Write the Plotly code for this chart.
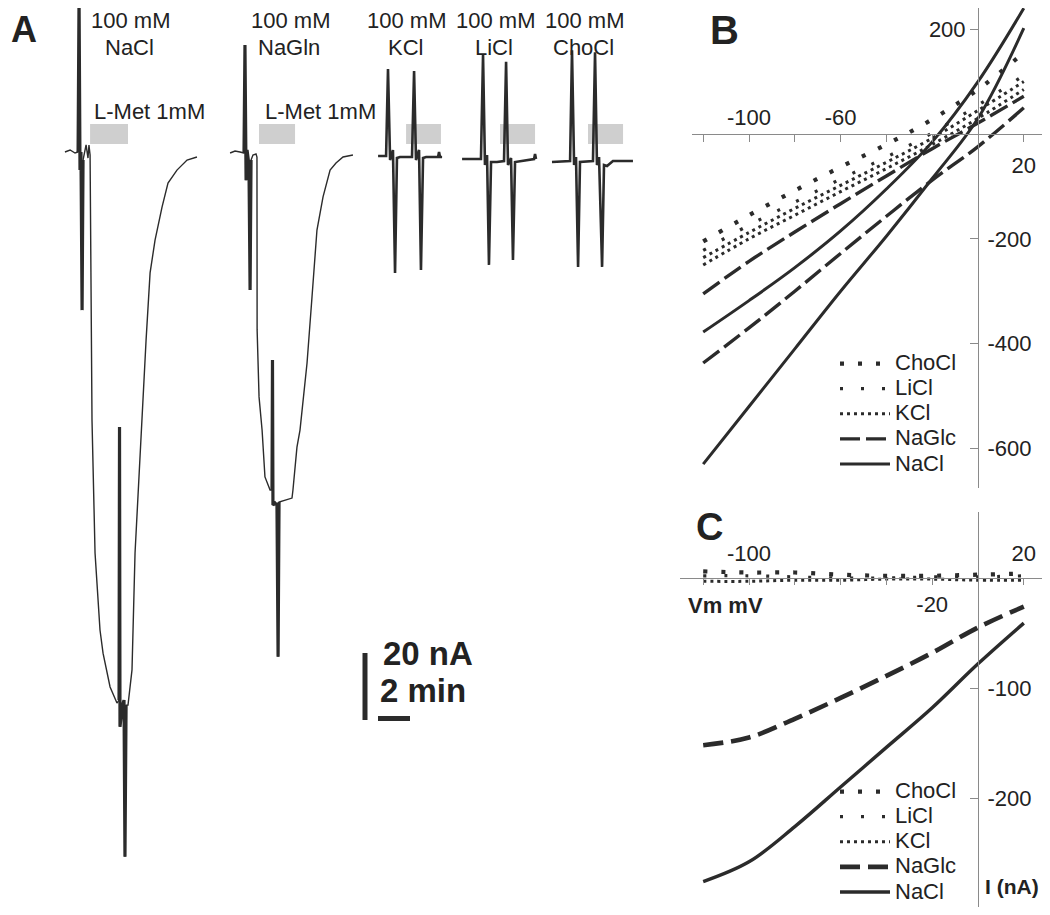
import plotly.graph_objects as go

# The page adds an 8 px body margin around the figure; the figure is sized so that
# figure + margin fills the 1050x915 window exactly.
OFF = 8
FW, FH = 1050 - 2 * OFF, 915 - 2 * OFF
FONT = "Arial, 'Liberation Sans', sans-serif"
INK = "#2b2b2b"
AXC = "#8a8a8a"
TXT = "#222222"

# ---------------- Panel A : current recordings (time in min, current in nA) ----------------
nacl_t = [4.06, 4.38, 4.69, 4.88, 4.94, 5.00, 5.06, 5.13, 5.19, 5.38,
          5.50, 5.56, 5.63, 5.75, 5.94, 6.25, 6.44, 6.88, 7.31, 7.44,
          7.47, 7.50, 7.63, 7.75, 7.81, 7.88, 8.00, 8.25, 8.44, 8.75,
          8.88, 9.13, 9.38, 9.69, 10.13, 10.50, 11.06, 11.69, 12.31]
nacl_i = [0.3, 0.9, 0.0, 0.3, 47.0, -5.1, 0.3, -46.9, -2.1, 2.4,
          -1.5, 2.4, -0.6, -79.7, -119.4, -142.4, -149.3, -159.4, -164.2, -163.3,
          -81.8, -171.3, -165.4, -163.3, -210.1, -164.8, -164.8, -154.3, -119.4, -89.6,
          -79.7, -55.8, -35.8, -26.0, -16.1, -9.0, -5.1, -2.1, -1.2]
nacl_spk1_t = [4.88, 4.94, 5.00, 5.06, 5.13, 5.19]
nacl_spk1_i = [0.3, 47.0, -5.1, 0.3, -46.9, -2.1]
nacl_spk2_t = [7.44, 7.47, 7.50, 7.63, 7.75, 7.81, 7.88]
nacl_spk2_i = [-163.3, -81.8, -171.3, -165.4, -163.3, -210.1, -164.8]

ngln_t = [14.38, 14.69, 15.00, 15.25, 15.31, 15.38, 15.44, 15.56, 15.63, 15.69,
          15.81, 16.00, 16.06, 16.07, 16.19, 16.38, 16.56, 16.88, 17.00, 17.03,
          17.06, 17.19, 17.31, 17.38, 17.44, 17.94, 18.25, 18.31, 18.56, 18.75,
          19.19, 19.50, 19.81, 20.19, 20.63, 21.00, 21.44, 22.06]
ngln_i = [0.0, 0.6, 0.3, 0.0, 32.2, -8.1, 0.9, -3.6, -40.9, -2.1,
          -0.6, -0.3, -1.2, -52.8, -72.8, -82.7, -96.7, -100.6, -100.6, -61.8,
          -105.1, -104.5, -105.1, -150.4, -104.2, -103.6, -103.0, -100.6, -87.8, -82.7,
          -62.7, -43.0, -23.0, -13.1, -5.1, -3.0, -1.2, -0.6]
ngln_spk1_t = [15.25, 15.31, 15.38, 15.44, 15.56, 15.63, 15.69]
ngln_spk1_i = [0.0, 32.2, -8.1, 0.9, -3.6, -40.9, -2.1]
ngln_spk2_t = [17.00, 17.03, 17.06, 17.19, 17.31, 17.38, 17.44]
ngln_spk2_i = [-100.6, -61.8, -105.1, -104.5, -105.1, -150.4, -104.2]

kcl_t = [23.63, 24.13, 24.25, 24.38, 24.56, 24.69, 24.81, 25.00, 25.75, 25.88,
         26.00, 26.19, 26.31, 26.44, 26.63, 27.38, 27.44, 27.50, 27.63]
kcl_i = [-0.9, -0.9, 25.1, -2.1, 0.9, -35.8, -1.5, -1.2, -1.2, 24.5,
         -2.1, 0.9, -34.9, -1.5, -1.2, -1.2, 0.3, -1.2, -1.2]

licl_t = [28.88, 30.06, 30.19, 30.31, 30.44, 30.56, 30.69, 31.06, 31.50, 31.63,
          31.75, 31.94, 32.06, 32.19, 33.38, 33.44, 33.50]
licl_i = [-1.8, -1.8, 29.3, -3.6, -0.6, -33.4, -2.7, -2.7, -2.4, 27.2,
          -3.6, -1.5, -31.9, -2.7, -1.8, -0.3, -1.8]

chocl_t = [34.50, 35.63, 35.75, 35.88, 36.00, 36.13, 36.25, 37.06, 37.19, 37.31,
           37.44, 37.63, 37.75, 37.94, 38.31, 39.56]
chocl_i = [-2.7, -2.4, 30.7, -3.6, -1.2, -34.0, -2.7, -2.4, 30.1, -3.6,
           -1.2, -34.0, -3.6, -3.9, -2.4, -2.4]

solution_names = ["NaCl", "NaGln", "KCl", "LiCl", "ChoCl"]
lmet_start = [5.63, 16.19, 25.38, 31.25, 36.75]   # L-Met 1mM application (min)
lmet_end = [8.00, 18.44, 27.56, 33.44, 38.94]
SCALE_NA = 20
SCALE_MIN = 2

# ---------------- Panel B / C : I-V curves ----------------
V_mV = [-120, -100, -80, -60, -40, -20, 0, 20]

B_NaCl_1 = [-378, -318, -255, -185, -105, -15, 100, 240]
B_NaCl_2 = [-630, -520, -410, -300, -195, -85, 30, 202]
B_NaGlc_1 = [-305, -243, -187, -133, -80, -28, 21, 72]
B_NaGlc_2 = [-437, -370, -300, -228, -157, -88, -24, 50]
B_KCl_1 = [-236, -188, -142, -98, -54, -8, 45, 100]
B_KCl_2 = [-250, -200, -155, -110, -66, -20, 30, 85]
B_LiCl = [-222, -174, -130, -86, -44, 2, 55, 112]
B_ChoCl = [-205, -155, -108, -63, -20, 28, 85, 155]

C_NaCl = [-276, -258, -226, -190, -154, -118, -78, -41]
C_NaGlc = [-152, -145, -128, -109, -89, -68, -45, -26]
C_KCl = [-3, -3, -2, -2, -1, -1, -2, -2]
C_LiCl = [2, 2, 1, 0, 0, 1, 1, 2]
C_ChoCl = [6, 5, 5, 3, 2, 2, 3, 4]

# ---------------- geometry helpers (window pixels -> paper) ----------------
def PX(px):
    return (px - OFF) / FW

def PY(py):
    return 1 - (py - OFF) / FH

XMAX, YMAX = OFF + FW, OFF + FH   # last visible window pixel
A_PX_PER_MIN, A_PX_PER_NA, A_BASE_PX = 16.0, 3.35, 153.0
V0_PX, PX_PER_MV = 978.0, 2.29
B_Y0PX, B_PX_PER_NA = 134.0, 0.524
C_Y0PX, C_PX_PER_NA = 578.0, 1.10

fig = go.Figure()

# Panel A traces
thin = dict(color=INK, width=1.4)
thick = dict(color=INK, width=3.2)
for t, i, ln in [(nacl_t, nacl_i, thin), (nacl_spk1_t, nacl_spk1_i, thick),
                 (nacl_spk2_t, nacl_spk2_i, thick),
                 (ngln_t, ngln_i, thin), (ngln_spk1_t, ngln_spk1_i, thick),
                 (ngln_spk2_t, ngln_spk2_i, thick),
                 (kcl_t, kcl_i, dict(color=INK, width=2.6)),
                 (licl_t, licl_i, dict(color=INK, width=2.6)),
                 (chocl_t, chocl_i, dict(color=INK, width=2.6))]:
    fig.add_trace(go.Scatter(x=t, y=i, mode="lines", line=ln, showlegend=False,
                             hoverinfo="skip", xaxis="x", yaxis="y"))

# Panel B/C styles
B_STY = {
    "ChoCl": dict(dash="4px,14px", width=4.2),
    "LiCl": dict(dash="3px,18px", width=3.2),
    "KCl": dict(dash="3px,4px", width=3.0),
    "NaGlc": dict(dash="20px,6px", width=3.4),
    "NaCl": dict(dash="solid", width=3.0),
}
C_STY = dict(B_STY)
C_STY["NaGlc"] = dict(dash="20px,8px", width=4.6)
C_STY["NaCl"] = dict(dash="solid", width=3.4)
RANK = {"ChoCl": 1, "LiCl": 2, "KCl": 3, "NaGlc": 4, "NaCl": 5}

def legend_name(name):
    return "<span style='font-size:22px'>%s</span>" % name

b_series = [("NaCl", B_NaCl_1, True), ("NaCl", B_NaCl_2, False),
            ("NaGlc", B_NaGlc_1, True), ("NaGlc", B_NaGlc_2, False),
            ("KCl", B_KCl_1, True), ("KCl", B_KCl_2, False),
            ("LiCl", B_LiCl, True), ("ChoCl", B_ChoCl, True)]
for name, ys, show in b_series:
    fig.add_trace(go.Scatter(x=V_mV, y=ys, mode="lines", name=legend_name(name),
                             line=dict(color=INK, shape="spline", **B_STY[name]),
                             legend="legend", legendgroup="B" + name, showlegend=show,
                             legendrank=RANK[name], hoverinfo="skip",
                             xaxis="x2", yaxis="y2"))

c_series = [("NaCl", C_NaCl), ("NaGlc", C_NaGlc), ("KCl", C_KCl),
            ("LiCl", C_LiCl), ("ChoCl", C_ChoCl)]
for name, ys in c_series:
    fig.add_trace(go.Scatter(x=V_mV, y=ys, mode="lines", name=legend_name(name),
                             line=dict(color=INK, shape="spline", **C_STY[name]),
                             legend="legend2", legendgroup="C" + name,
                             legendrank=RANK[name], hoverinfo="skip",
                             xaxis="x3", yaxis="y3"))

# dummy traces so overlay axes are rendered
for xa, ya in [("x4", "y2"), ("x2", "y4"), ("x5", "y3")]:
    fig.add_trace(go.Scatter(x=[], y=[], mode="lines", showlegend=False,
                             hoverinfo="skip", xaxis=xa, yaxis=ya))

# ---------------- shapes: L-Met bars and scale bars ----------------
shapes = []
bar_lo = (A_BASE_PX - 144) / A_PX_PER_NA
bar_hi = (A_BASE_PX - 124) / A_PX_PER_NA
for s, e in zip(lmet_start, lmet_end):
    shapes.append(dict(type="rect", xref="x", yref="y", x0=s, x1=e, y0=bar_lo, y1=bar_hi,
                       fillcolor="#cfcfcf", line=dict(width=0), layer="below"))
sb_y0 = (A_BASE_PX - 720) / A_PX_PER_NA
sb_x = 365 / A_PX_PER_MIN
shapes.append(dict(type="line", xref="x", yref="y", x0=sb_x, x1=sb_x,
                   y0=sb_y0, y1=sb_y0 + SCALE_NA, line=dict(color=INK, width=5)))
hb_x0 = 378 / A_PX_PER_MIN
hb_y = (A_BASE_PX - 718.5) / A_PX_PER_NA
shapes.append(dict(type="line", xref="x", yref="y", x0=hb_x0, x1=hb_x0 + SCALE_MIN,
                   y0=hb_y, y1=hb_y, line=dict(color=INK, width=5)))

# ---------------- annotations ----------------
ann = []
def text(px, py, s, size=22, bold=False):
    ann.append(dict(x=PX(px), y=PY(py), xref="paper", yref="paper",
                    text=("<b>%s</b>" % s) if bold else s,
                    showarrow=False, xanchor="center", yanchor="middle",
                    font=dict(family=FONT, size=size, color=TXT)))

for px, name in zip([130, 290, 406, 495, 584], solution_names):
    text(px, 21, "100 mM", size=22)
    text(px - 1, 47, name, size=22)
text(149, 111, "L-Met 1mM", size=22)
text(320, 111, "L-Met 1mM", size=22)
text(428, 653, "20 nA", size=33, bold=True)
text(423, 690, "2 min", size=33, bold=True)
text(24, 30, "A", size=36, bold=True)
text(724, 30, "B", size=40, bold=True)
text(709, 527, "C", size=38, bold=True)
text(725, 605, "Vm mV", size=22, bold=True)
text(1012, 886, "I (nA)", size=21, bold=True)

# ---------------- axes ----------------
tickfont = dict(family=FONT, size=22, color=TXT)
common = dict(showgrid=False, zeroline=False, tickfont=tickfont, fixedrange=True,
              automargin=False)

ax_range = [OFF / A_PX_PER_MIN, 690 / A_PX_PER_MIN]
ay_range = [(A_BASE_PX - YMAX) / A_PX_PER_NA, (A_BASE_PX - OFF) / A_PX_PER_NA]
bx_range = [(692 - V0_PX) / PX_PER_MV, (XMAX - V0_PX) / PX_PER_MV]
by_range = [(B_Y0PX - 488) / B_PX_PER_NA, (B_Y0PX - OFF) / B_PX_PER_NA]
cx_range = [(680 - V0_PX) / PX_PER_MV, (XMAX - V0_PX) / PX_PER_MV]
cy_range = [(C_Y0PX - YMAX) / C_PX_PER_NA, (C_Y0PX - 512) / C_PX_PER_NA]

leg_common = dict(xanchor="left", yanchor="top", bgcolor="rgba(0,0,0,0)",
                  font=dict(family=FONT, size=17, color=TXT),
                  itemwidth=50, tracegroupgap=0, traceorder="normal")

xt = V_mV
fig.update_layout(
    width=FW, height=FH, autosize=False,
    margin=dict(l=0, r=0, t=0, b=0, pad=0, autoexpand=False),
    paper_bgcolor="white", plot_bgcolor="rgba(0,0,0,0)",
    shapes=shapes, annotations=ann,
    xaxis=dict(domain=[0, PX(690)], range=ax_range, visible=False,
               fixedrange=True, automargin=False),
    yaxis=dict(domain=[0, 1], range=ay_range, visible=False, fixedrange=True, automargin=False),
    xaxis2=dict(domain=[PX(692), 1.0], range=bx_range, anchor="free",
                position=PY(B_Y0PX), side="top", ticks="inside", ticklen=7,
                tickwidth=1.2, tickcolor=AXC, showline=True, linecolor=AXC, linewidth=1.2,
                tickvals=xt, ticktext=["", "-100", "", "-60", "", "", "", ""], **common),
    xaxis4=dict(overlaying="x2", range=bx_range, anchor="free", position=PY(B_Y0PX),
                side="bottom", ticks="outside", ticklen=12, tickcolor="rgba(0,0,0,0)",
                showline=False, tickvals=[20], ticktext=["20"], **common),
    yaxis2=dict(domain=[PY(488), 1.0], range=by_range, anchor="free",
                position=PX(V0_PX), side="right", ticks="inside", ticklen=8,
                tickwidth=1.2, tickcolor=AXC, showline=True, linecolor=AXC, linewidth=1.2,
                tickvals=[-600, -400, -200], ticktext=["-600", "-400", "-200"],
                ticklabelstandoff=4, **common),
    yaxis4=dict(overlaying="y2", range=by_range, anchor="free", position=PX(V0_PX),
                side="left", ticks="outside", ticklen=8, tickwidth=1.2, tickcolor=AXC,
                showline=False, tickvals=[200], ticktext=["200"], **common),
    xaxis3=dict(domain=[PX(680), 1.0], range=cx_range, anchor="free",
                position=PY(C_Y0PX), side="top", ticks="inside", ticklen=6,
                tickwidth=1.2, tickcolor=AXC, showline=True, linecolor=AXC, linewidth=1.2,
                tickvals=xt, ticktext=["", "-100", "", "", "", "", "", "20"],
                ticklabelstandoff=8, **common),
    xaxis5=dict(overlaying="x3", range=cx_range, anchor="free", position=PY(C_Y0PX),
                side="bottom", ticks="outside", ticklen=7, tickcolor="rgba(0,0,0,0)",
                showline=False, tickvals=[-20], ticktext=["-20"], **common),
    yaxis3=dict(domain=[0, PY(512)], range=cy_range, anchor="free",
                position=PX(V0_PX), side="right", ticks="inside", ticklen=8,
                tickwidth=1.2, tickcolor=AXC, showline=True, linecolor=AXC, linewidth=1.2,
                tickvals=[-200, -100], ticktext=["-200", "-100"],
                ticklabelstandoff=4, **common),
    legend=dict(x=PX(835), y=PY(346), **leg_common),
    legend2=dict(x=PX(835), y=PY(774), **leg_common),
    showlegend=True,
)

fig.write_html("out.html")
